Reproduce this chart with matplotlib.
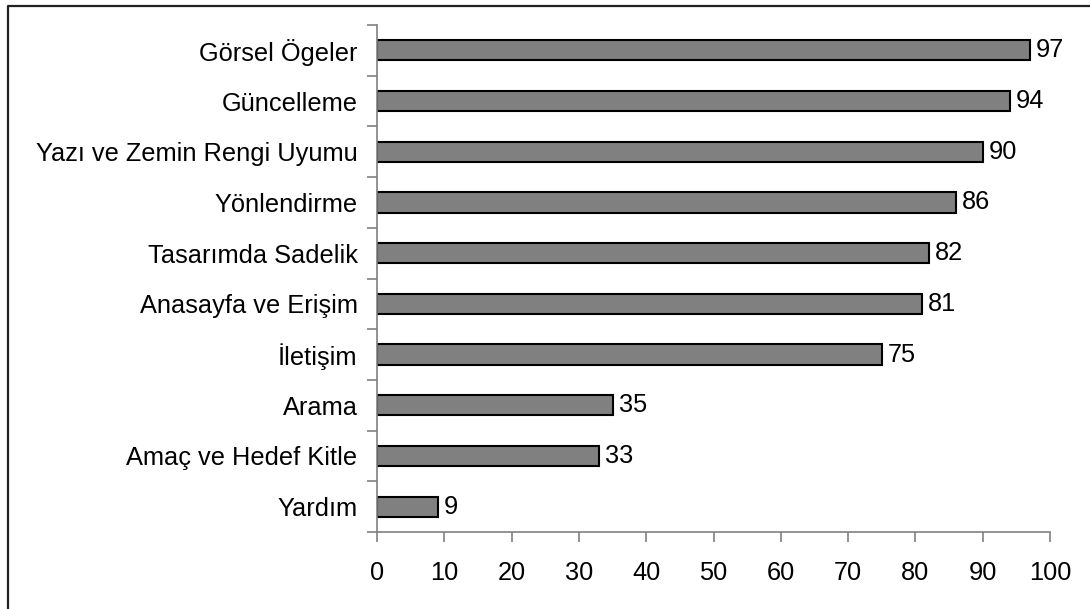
import matplotlib
matplotlib.use("Agg")
from matplotlib import pyplot as plt
from matplotlib.lines import Line2D
import numpy as np

plt.rcParams['font.family'] = ['Liberation Sans', 'DejaVu Sans']

# veriler (üstten alta)
kategoriler = ['Görsel Ögeler', 'Güncelleme', 'Yazı ve Zemin Rengi Uyumu',
               'Yönlendirme', 'Tasarımda Sadelik', 'Anasayfa ve Erişim',
               'İletişim', 'Arama', 'Amaç ve Hedef Kitle', 'Yardım']
degerler = [97, 94, 90, 86, 82, 81, 75, 35, 33, 9]
xticks = [0, 10, 20, 30, 40, 50, 60, 70, 80, 90, 100]

W, H = 1090, 609
fs = 18.3
fig = plt.figure(figsize=(W / 100, H / 100), dpi=100)
ax = fig.add_axes([377 / W, 1 - 532 / H, (1050 - 377) / W, (532 - 25) / H])

n = len(kategoriler)
y = np.arange(n)[::-1]
ax.barh(y, degerler, height=0.4, color='#808080', edgecolor='black', linewidth=1.5)

for yi, v in zip(y, degerler):
    ax.text(v + 0.9, yi, str(v), va='center', ha='left', fontsize=fs)

ax.set_xlim(0, 100)
ax.set_ylim(-0.5, n - 0.5)
ax.set_xticks(xticks)
ax.set_xticklabels([str(t) for t in xticks], fontsize=fs)
ax.set_yticks(y)
ax.set_yticklabels(kategoriler, fontsize=fs)
ax.tick_params(axis='y', length=0, pad=14)
ax.set_yticks(np.arange(n + 1) - 0.5, minor=True)
ax.tick_params(axis='y', which='minor', length=7, color='#808080', width=1.2)
ax.tick_params(axis='x', length=7, color='#808080', width=1.2, pad=14)

for s in ['top', 'right']:
    ax.spines[s].set_visible(False)
for s in ['left', 'bottom']:
    ax.spines[s].set_color('#808080')
    ax.spines[s].set_linewidth(1.2)

# dış çerçeve (yalnızca üst ve sol kenar görünüyor)
fig.lines.append(Line2D([8 / W, 8 / W, 1.0], [0.0, 1 - 5.5 / H, 1 - 5.5 / H],
                        transform=fig.transFigure, color='#222222', linewidth=1.6))

fig.savefig('out.png', dpi=100)
